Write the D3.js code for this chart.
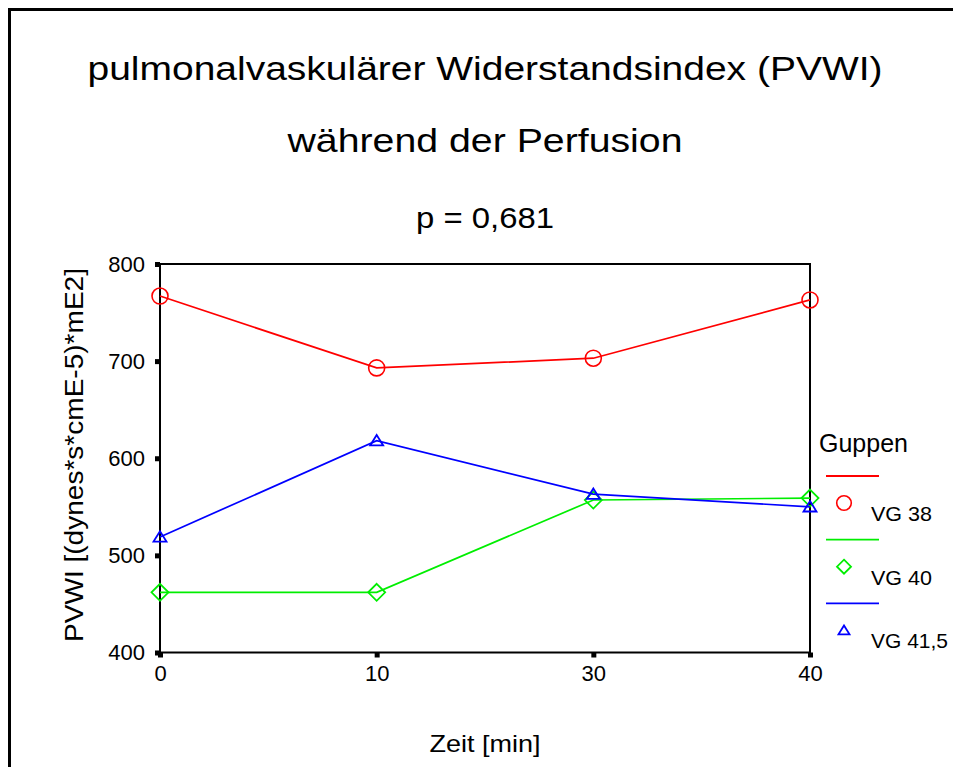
<!DOCTYPE html>
<html><head><meta charset="utf-8">
<script src="https://cdn.jsdelivr.net/npm/d3@7"></script>
<style>body{margin:0;background:#fff}svg{display:block}text{font-family:"Liberation Sans",Arial,sans-serif;fill:#000}</style>
</head><body>
<script>
const categories = ["0","10","30","40"];
const seriesNames = ["VG 38","VG 40","VG 41,5"];
const vg38 = [767, 693, 703, 763];
const vg40 = [462, 462, 557, 559];
const vg415 = [519, 618, 563, 550];
const yTicks = [400, 500, 600, 700, 800];
const colors = ["#ff0000", "#00ee00", "#0000ff"];
const symbols = ["circle", "diamond", "triangle"];

const W = 953, H = 767;
const svg = d3.select("body").append("svg").attr("width", W).attr("height", H);

// outer border
svg.append("path").attr("d", `M9.5,${H+5} L9.5,9.5 L${W+5},9.5`).attr("fill","none").attr("stroke","#000").attr("stroke-width",3);

const L = 160, R = 810, T = 264, B = 652.5;
const x = d3.scalePoint().domain(categories).range([L, R]);
const y = d3.scaleLinear().domain([400, 800]).range([B, T]);

// titles
svg.append("text").attr("x",485).attr("y",80).attr("text-anchor","middle").attr("font-size",34)
  .attr("textLength",795).attr("lengthAdjust","spacingAndGlyphs").text("pulmonalvaskulärer Widerstandsindex (PVWI)");
svg.append("text").attr("x",485).attr("y",152).attr("text-anchor","middle").attr("font-size",34)
  .attr("textLength",395).attr("lengthAdjust","spacingAndGlyphs").text("während der Perfusion");
svg.append("text").attr("x",485).attr("y",228).attr("text-anchor","middle").attr("font-size",30)
  .attr("textLength",138).attr("lengthAdjust","spacingAndGlyphs").text("p = 0,681");

// frame
svg.append("rect").attr("x",L).attr("y",T).attr("width",R-L).attr("height",B-T).attr("fill","none").attr("stroke","#000").attr("stroke-width",2);

// y axis ticks
const yAxis = d3.axisLeft(y).tickValues(yTicks).tickSize(0).tickPadding(15);
const gy = svg.append("g").attr("transform",`translate(${L},0)`).call(yAxis);
gy.select(".domain").remove();
gy.attr("font-size",22).attr("font-family","Liberation Sans, Arial, sans-serif");
gy.selectAll("text").style("font-size","22px").attr("fill","#000");
gy.selectAll(".tick").append("rect").attr("x",-5).attr("y",-2.5).attr("width",5).attr("height",5).attr("fill","#000");

// x axis
const xAxis = d3.axisBottom(x).tickSize(0).tickPadding(13);
const gx = svg.append("g").attr("transform",`translate(0,${B})`).call(xAxis);
gx.select(".domain").remove();
gx.attr("font-size",22).attr("font-family","Liberation Sans, Arial, sans-serif");
gx.selectAll("text").style("font-size","22px").attr("fill","#000");
gx.selectAll(".tick").append("rect").attr("x",-2.5).attr("y",0).attr("width",5).attr("height",5).attr("fill","#000");

// axis labels
svg.append("text").attr("x",485).attr("y",752).attr("text-anchor","middle").attr("font-size",24)
  .attr("textLength",111).attr("lengthAdjust","spacingAndGlyphs").text("Zeit [min]");
svg.append("text").attr("transform","translate(83,455) rotate(-90)").attr("text-anchor","middle").attr("font-size",25)
  .attr("textLength",374).attr("lengthAdjust","spacingAndGlyphs").text("PVWI [(dynes*s*cmE-5)*mE2]");

function marker(g, type, cx, cy, s, color) {
  if (type === "circle") {
    g.append("circle").attr("cx",cx).attr("cy",cy).attr("r",s).attr("fill","none").attr("stroke",color).attr("stroke-width",1.6);
  } else if (type === "diamond") {
    g.append("path").attr("d",`M${cx},${cy-s} L${cx+s},${cy} L${cx},${cy+s} L${cx-s},${cy} Z`).attr("fill","none").attr("stroke",color).attr("stroke-width",1.8);
  } else {
    const h = s*1.6;
    g.append("path").attr("d",`M${cx},${cy-h*0.55} L${cx+s},${cy+h*0.45} L${cx-s},${cy+h*0.45} Z`).attr("fill","none").attr("stroke",color).attr("stroke-width",1.8);
  }
}

const series = [vg38, vg40, vg415];
const line = d3.line().x((d,i)=>x(categories[i])).y(d=>y(d));
const sizes = [8, 8.5, 6.5];
series.forEach((vals, k) => {
  const g = svg.append("g");
  g.append("path").datum(vals).attr("d", line).attr("fill","none").attr("stroke",colors[k]).attr("stroke-width",1.7);
  vals.forEach((v,i) => marker(g, symbols[k], x(categories[i]), y(v), sizes[k], colors[k]));
});

// legend
svg.append("text").attr("x",819).attr("y",452).attr("font-size",25).text("Guppen");
const lg = svg.append("g");
const legLens = [61, 61, 77];
seriesNames.forEach((n, k) => {
  const y0 = 476 + k*63.7;
  lg.append("line").attr("x1",826).attr("x2",879).attr("y1",y0).attr("y2",y0).attr("stroke",colors[k]).attr("stroke-width",1.8);
  marker(lg, symbols[k], 844, y0+27, [7.3,7,5.5][k], colors[k]);
  lg.append("text").attr("x",871).attr("y",y0+45).attr("font-size",21)
    .attr("textLength",legLens[k]).attr("lengthAdjust","spacingAndGlyphs").text(n);
});
</script>
</body></html>
